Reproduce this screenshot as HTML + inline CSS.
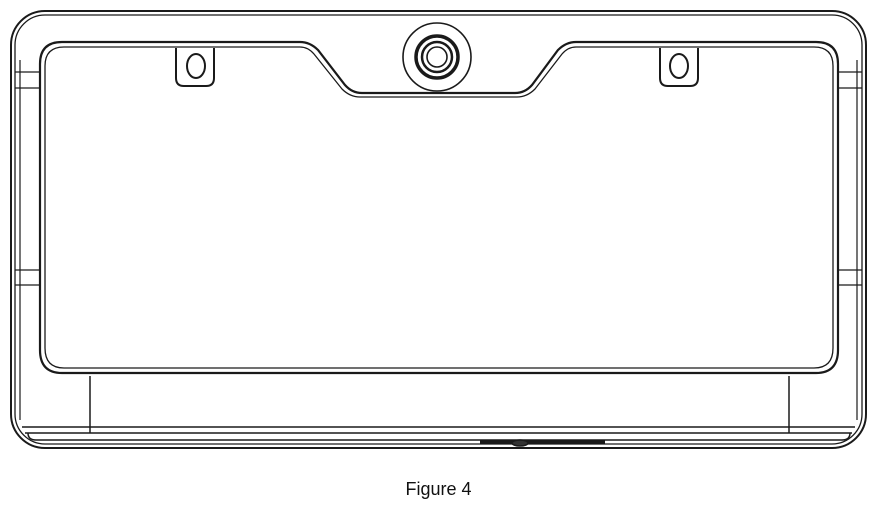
<!DOCTYPE html>
<html><head><meta charset="utf-8"><style>
body{margin:0;background:#fff;width:877px;height:517px;overflow:hidden}
svg{display:block}
</style></head><body>
<svg width="877" height="517" viewBox="0 0 877 517" fill="none" stroke="#1a1a1a" stroke-width="2">
<g>
<rect x="11" y="11" width="855" height="437" rx="34"/>
<rect x="15" y="15" width="847" height="429" rx="30" stroke-width="1.3"/>
</g>
<g stroke-width="1.2">
<line x1="15" y1="72" x2="40" y2="72"/><line x1="15" y1="88" x2="40" y2="88"/>
<line x1="837" y1="72" x2="862" y2="72"/><line x1="837" y1="88" x2="862" y2="88"/>
<line x1="15" y1="270" x2="40" y2="270"/><line x1="15" y1="285" x2="40" y2="285"/>
<line x1="837" y1="270" x2="862" y2="270"/><line x1="837" y1="285" x2="862" y2="285"/>
<line x1="20" y1="60" x2="20" y2="420"/><line x1="857" y1="60" x2="857" y2="420"/>
</g>
<g>
<path d="M62 42 H300 Q310 42 318 50 L345 85 Q352 93 362 93 H515 Q525 93 532 85 L558 50 Q566 42 576 42 H816 Q838 42 838 64 V350 Q838 373 816 373 H62 Q40 373 40 350 V64 Q40 42 62 42 Z" stroke-width="2.2"/>
<path d="M64 47 H300 Q308 47 314 54 L342 89 Q350 97 360 97 H517 Q527 97 535 89 L562 54 Q568 47 576 47 H814 Q833 47 833 66 V348 Q833 368 814 368 H64 Q45 368 45 348 V66 Q45 47 64 47 Z" stroke-width="1.3"/>
</g>
<g>
<circle cx="437" cy="57" r="34" stroke-width="1.6"/>
<circle cx="437" cy="57" r="21" stroke-width="3.5"/>
<circle cx="437" cy="57" r="15" stroke-width="2.5"/>
<circle cx="437" cy="57" r="10" stroke-width="1.6"/>
</g>
<g>
<path d="M176 48 V78 Q176 86 184 86 H206 Q214 86 214 78 V48"/>
<ellipse cx="196" cy="66" rx="9" ry="12"/>
</g>
<g>
<path d="M660 48 V78 Q660 86 668 86 H690 Q698 86 698 78 V48"/>
<ellipse cx="679" cy="66" rx="9" ry="12"/>
</g>
<g stroke-width="1.5">
<line x1="90" y1="376" x2="90" y2="433"/><line x1="789" y1="376" x2="789" y2="433"/>
<line x1="22" y1="427" x2="855" y2="427"/>
<line x1="25" y1="433" x2="852" y2="433"/>
<path d="M28 433 Q28 440 36 440 H842 Q850 440 850 433"/>
<path d="M480 442 H605" stroke-width="3"/>
<ellipse cx="520" cy="443" rx="8" ry="3" fill="#333"/>
</g>
</svg>
<div style="position:absolute;left:0;top:479px;width:877px;text-align:center;font:18px 'Liberation Sans',sans-serif;color:#111">Figure 4</div>
</body></html>
